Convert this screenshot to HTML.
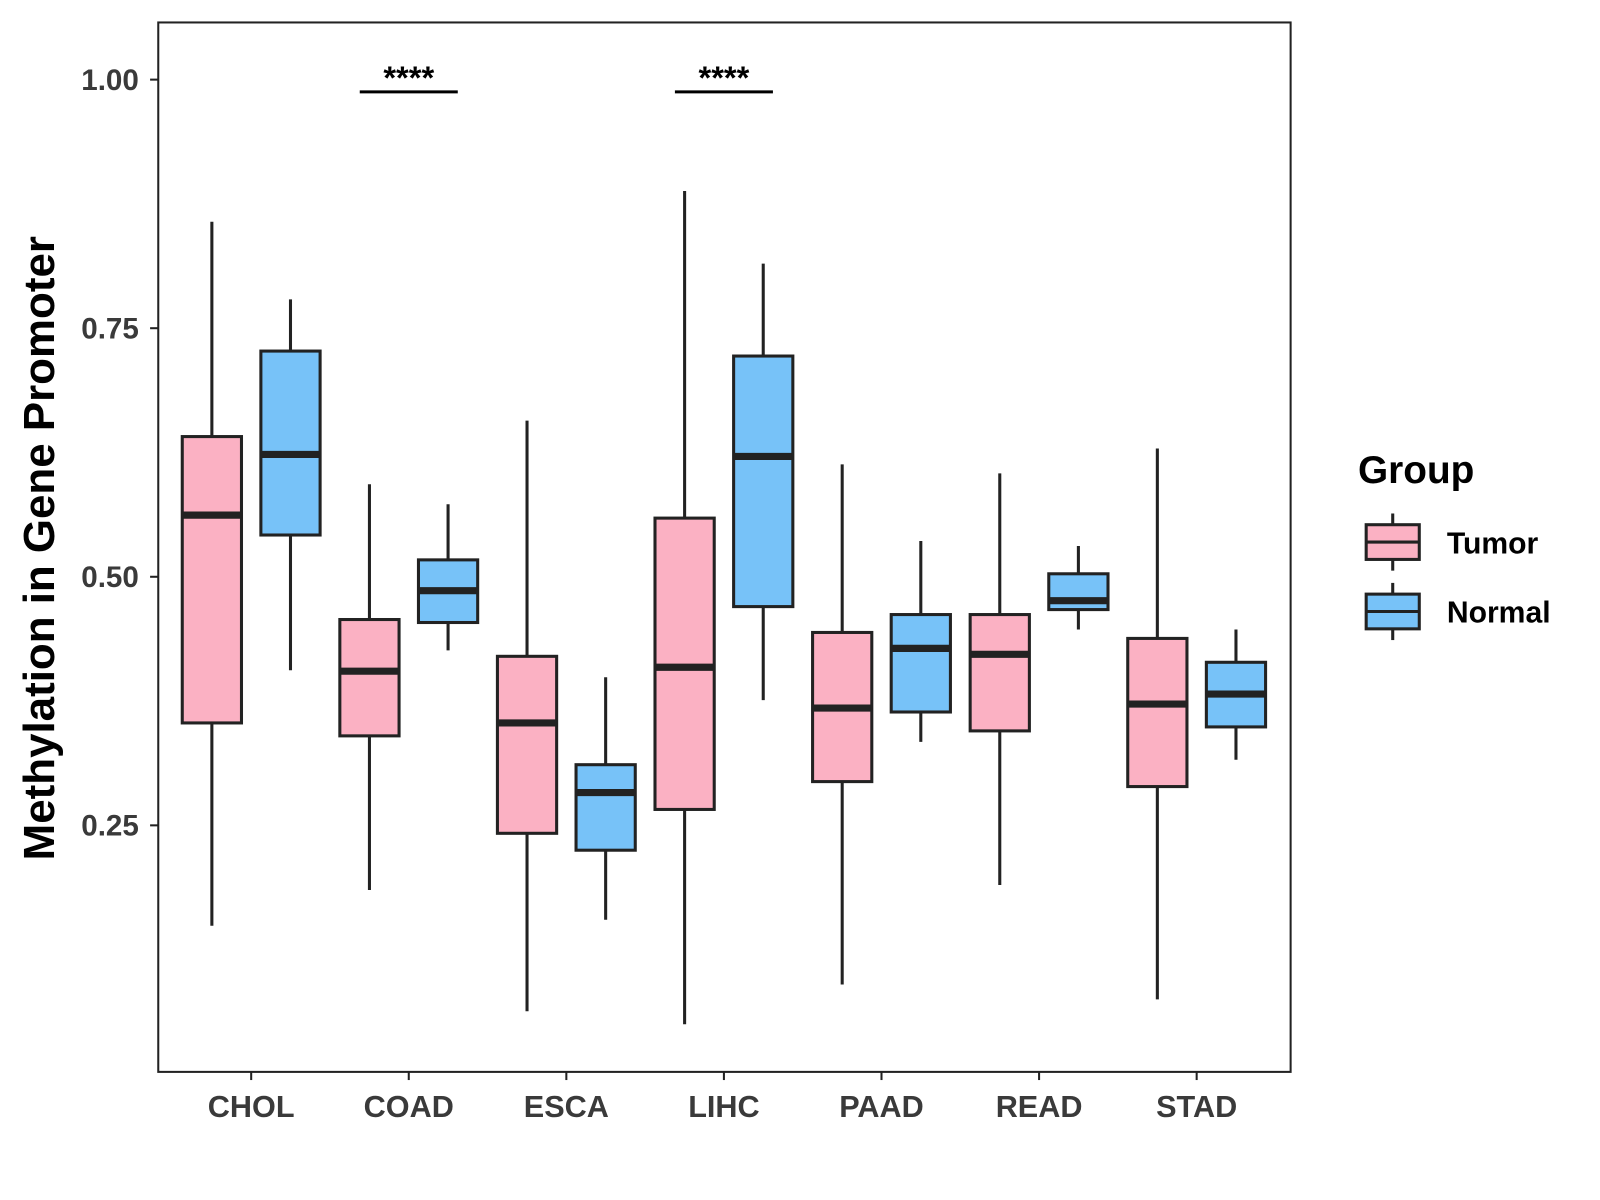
<!DOCTYPE html>
<html><head><meta charset="utf-8"><style>html,body{margin:0;padding:0;background:#fff}svg{display:block}</style></head>
<body>
<svg id="chart" width="1600" height="1200" viewBox="0 0 1567 1175.5" preserveAspectRatio="none" xmlns="http://www.w3.org/2000/svg" font-family="Liberation Sans, Arial, sans-serif">
<rect x="155" y="22" width="1109" height="1028" fill="#fff" stroke="#222" stroke-width="2"/>
<g id="marks"></g>
<text transform="translate(53,537) rotate(-90)" text-anchor="middle" font-size="43" font-weight="bold" fill="#000">Methylation in Gene Promoter</text>
<g>
<text x="1330" y="473" font-size="38" font-weight="bold">Group</text>
<g>
<line x1="1364" y1="503" x2="1364" y2="559" stroke="#222" stroke-width="3"/>
<rect x="1338" y="514" width="52" height="34" fill="#FBB1C3" stroke="#222" stroke-width="3"/>
<line x1="1338" y1="531" x2="1390" y2="531" stroke="#222" stroke-width="3"/>
<text x="1417" y="542" font-size="29.5" font-weight="bold">Tumor</text></g>
<g>
<line x1="1364" y1="571" x2="1364" y2="627" stroke="#222" stroke-width="3"/>
<rect x="1338" y="582" width="52" height="34" fill="#77C2F8" stroke="#222" stroke-width="3"/>
<line x1="1338" y1="599" x2="1390" y2="599" stroke="#222" stroke-width="3"/>
<text x="1417" y="610" font-size="29.5" font-weight="bold">Normal</text></g>
</g>
</svg>
<script>
const categories=["CHOL","COAD","ESCA","LIHC","PAAD","READ","STAD"];
const tumorLow=[0.149,0.185,0.063,0.050,0.090,0.190,0.075];
const tumorQ1=[0.353,0.340,0.242,0.266,0.294,0.345,0.289];
const tumorMed=[0.562,0.405,0.353,0.409,0.368,0.422,0.372];
const tumorQ3=[0.641,0.457,0.420,0.559,0.444,0.462,0.438];
const tumorHigh=[0.857,0.593,0.657,0.888,0.613,0.604,0.629];
const normalLow=[0.406,0.426,0.155,0.376,0.334,0.447,0.316];
const normalQ1=[0.542,0.454,0.225,0.470,0.364,0.467,0.349];
const normalMed=[0.623,0.486,0.283,0.621,0.428,0.476,0.382];
const normalQ3=[0.727,0.517,0.311,0.722,0.462,0.503,0.414];
const normalHigh=[0.779,0.573,0.399,0.815,0.536,0.531,0.447];
const yTicks=[0.25,0.50,0.75,1.00];
const yTickLabels=["0.25","0.50","0.75","1.00"];
const sigCategories=["COAD","LIHC"];
const sigLabels=["****","****"];

const NS="http://www.w3.org/2000/svg";
const g=document.getElementById('marks');
const y=v=>78+(1-v)*974;
const x=i=>246+i*154.33;
function mk(t,a){const e=document.createElementNS(NS,t);for(const k in a)e.setAttribute(k,a[k]);g.appendChild(e);return e;}
yTicks.forEach((v,i)=>{
  const t=mk('line',{x1:147,x2:155,y1:y(v),y2:y(v),stroke:'#222','stroke-width':2});
  
  
  const l=mk('text',{x:136,y:y(v)+10,'text-anchor':'end','font-size':29,'font-weight':'bold',fill:'#3a3a3a'});
  l.textContent=yTickLabels[i];
  
  
});
categories.forEach((c,i)=>{
  const t=mk('line',{x1:x(i),x2:x(i),y1:1050,y2:1058,stroke:'#222','stroke-width':2});
  
  
  const l=mk('text',{x:x(i),y:1094,'text-anchor':'middle','font-size':30,'font-weight':'bold',fill:'#3a3a3a'});
  l.textContent=c;
  
  
  const groups=[[-38.5,'#FBB1C3',tumorLow,tumorQ1,tumorMed,tumorQ3,tumorHigh,'tumor'],[38.5,'#77C2F8',normalLow,normalQ1,normalMed,normalQ3,normalHigh,'normal']];
  groups.forEach(([dx,col,lo,q1,md,q3,hi,nm])=>{
    const cx=x(i)+dx,w=58;
    const wk=mk('line',{x1:cx,x2:cx,y1:y(hi[i]),y2:y(lo[i]),stroke:'#222','stroke-width':3});
    
    
    const b=mk('rect',{x:cx-w/2,y:y(q3[i]),width:w,height:y(q1[i])-y(q3[i]),fill:col,stroke:'#222','stroke-width':3});
    
    
    const m=mk('line',{x1:cx-w/2,x2:cx+w/2,y1:y(md[i]),y2:y(md[i]),stroke:'#222','stroke-width':7});
    
    
  });
});
sigCategories.forEach((c,k)=>{
  const i=categories.indexOf(c);
  const l=mk('line',{x1:x(i)-48,x2:x(i)+48,y1:90,y2:90,stroke:'#000','stroke-width':3});
  
  
  const t=mk('text',{x:x(i),y:87,'text-anchor':'middle','font-size':32,'font-weight':'bold',fill:'#000'});
  t.textContent=sigLabels[k];
  
  
});
</script>
</body></html>
